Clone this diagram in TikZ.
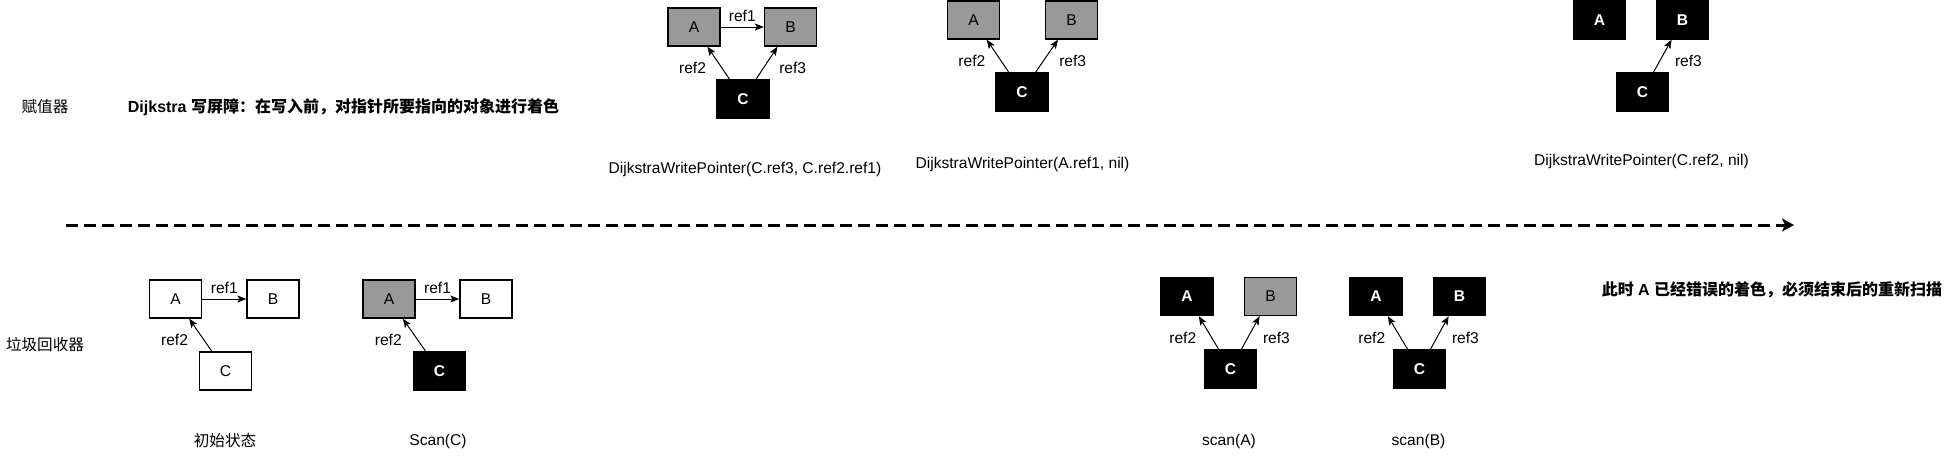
\documentclass[tikz,border=0pt]{standalone}
\usepackage{fontspec}
\setmainfont{Liberation Sans}
\newfontfamily\cjk{Noto Sans CJK SC}
\usetikzlibrary{positioning,arrows.meta}
\definecolor{objgrey}{HTML}{999999}

\begin{document}
\begin{tikzpicture}[x=1pt, y=-1pt,
font=\fontsize{15.6pt}{18pt}\selectfont,
obj/.style = {rectangle, draw=black, line width=1.3pt, minimum width=52pt,
              minimum height=38pt, inner sep=0pt},
whiteobj/.style = {obj, fill=white},
greyobj/.style = {obj, fill=objgrey},
blackobj/.style = {obj, fill=black, text=white, font=\fontsize{15.6pt}{18pt}\selectfont\bfseries},
lbl/.style = {inner sep=1pt},
strong/.style = {font=\fontsize{16pt}{18pt}\selectfont\bfseries},
ptr/.style = {draw, line width=1pt, -{Stealth[length=9pt, width=7pt, inset=2pt]}},
timeline/.style = {draw, line width=3pt, dash pattern=on 12pt off 6pt,
                   -{Stealth[length=12pt, width=13pt, inset=3pt]}}]
\useasboundingbox (0,0) rectangle (1949,456);

\node (assign) at (45,107) {\cjk 赋值器};
\node [strong] (title) at (343.5,107) {Dijkstra {\cjk 写屏障：在写入前，对指针所要指向的对象进行着色}};
\node (collector) at (45,345) {\cjk 垃圾回收器};
\node [strong] (note) at (1772,290) {{\cjk 此时} A {\cjk 已经错误的着色，必须结束后的重新扫描}};

\node [greyobj] (a) at (694,27) {A};
\node [greyobj] (b) at (790.5,27) {B};
\node [blackobj] (c) at (743,99) {C};
\node (cap) at (745,169) {DijkstraWritePointer(C.ref3, C.ref2.ref1)};

\node [greyobj] (a2) at (973.5,20) {A};
\node [greyobj] (b2) at (1071.5,20) {B};
\node [blackobj] (c2) at (1022,92) {C};
\node (cap2) at (1022.5,164) {DijkstraWritePointer(A.ref1, nil)};

\node [blackobj] (a3) at (1599.5,20) {A};
\node [blackobj] (b3) at (1682.5,20) {B};
\node [blackobj] (c3) at (1642.5,92) {C};
\node (cap3) at (1641.5,161) {DijkstraWritePointer(C.ref2, nil)};

\node [whiteobj] (a4) at (175.5,299) {A};
\node [whiteobj] (b4) at (273,299) {B};
\node [whiteobj] (c4) at (225.5,371) {C};
\node (cap4) at (225,441) {\cjk 初始状态};

\node [greyobj] (a5) at (389,299) {A};
\node [whiteobj] (b5) at (486,299) {B};
\node [blackobj] (c5) at (439.5,371) {C};
\node (cap5) at (438,441) {Scan(C)};

\node [blackobj] (a6) at (1187,296.5) {A};
\node [greyobj] (b6) at (1270.5,296.5) {B};
\node [blackobj] (c6) at (1230.5,369) {C};
\node (cap6) at (1229,441) {scan(A)};

\node [blackobj] (a7) at (1376,296.5) {A};
\node [blackobj] (b7) at (1459.5,296.5) {B};
\node [blackobj] (c7) at (1419.5,369) {C};
\node (cap7) at (1418.5,441) {scan(B)};

\coordinate (t0) at (66,225);
\coordinate (t1) at (1794,225);
\path [timeline] (t0) -- (t1);

\begin{scope}[every path/.style=ptr]
\path (a) -- node [lbl, above=4pt] (r1) {ref1} (b);
\path (c) -- node [lbl, left=11pt, yshift=-5pt] (r2) {ref2} (a);
\path (c) -- node [lbl, right=11pt, yshift=-5pt] (r3) {ref3} (b);
\path (c2) -- node [lbl, left=11pt, yshift=-5pt] (r22) {ref2} (a2);
\path (c2) -- node [lbl, right=11pt, yshift=-5pt] (r23) {ref3} (b2);
\path (c3) -- node [lbl, right=11pt, yshift=-5pt] (r33) {ref3} (b3);
\path (a4) -- node [lbl, above=4pt] (r41) {ref1} (b4);
\path (c4) -- node [lbl, left=11pt, yshift=-5pt] (r42) {ref2} (a4);
\path (a5) -- node [lbl, above=4pt] (r51) {ref1} (b5);
\path (c5) -- node [lbl, left=11pt, yshift=-5pt] (r52) {ref2} (a5);
\path (c6) -- node [lbl, left=11pt, yshift=-5pt] (r62) {ref2} (a6);
\path (c6) -- node [lbl, right=11pt, yshift=-5pt] (r63) {ref3} (b6);
\path (c7) -- node [lbl, left=11pt, yshift=-5pt] (r72) {ref2} (a7);
\path (c7) -- node [lbl, right=11pt, yshift=-5pt] (r73) {ref3} (b7);
\end{scope}
\end{tikzpicture}
\end{document}
